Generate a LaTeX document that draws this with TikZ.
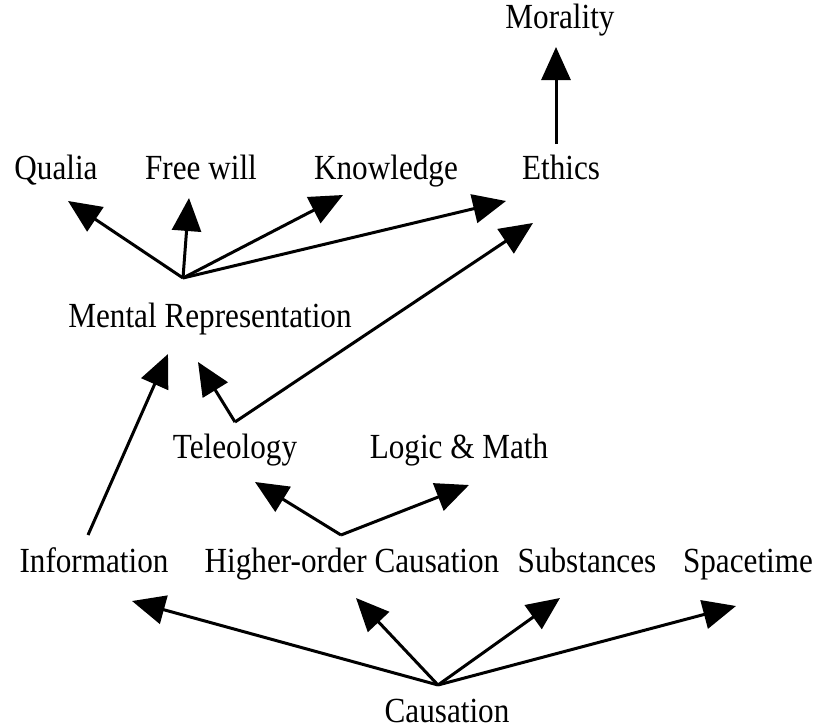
\documentclass[tikz,border=0pt]{standalone}
\usepackage{fontspec}
\setmainfont{Liberation Serif}
\usetikzlibrary{arrows.meta}
\newcommand{\tallbox}[1]{\scalebox{0.99}[1.12]{#1}}
\begin{document}
\begin{tikzpicture}[x=1pt,y=-1pt,
  lbl/.style={anchor=base,inner sep=0pt,font=\fontsize{31.5}{36}\selectfont},
  conn/.style={line width=3pt,-{Triangle[length=33pt,width=29pt]}}]
\useasboundingbox (0,0) rectangle (825,728);
% labels
\node[lbl] (mor) at (560,28) {\tallbox{Morality}};
\node[lbl] (qua) at (56,179) {\tallbox{Qualia}};
\node[lbl] (fw)  at (201,179) {\tallbox{Free will}};
\node[lbl] (kno) at (386,179) {\tallbox{Knowledge}};
\node[lbl] (eth) at (561,179) {\tallbox{Ethics}};
\node[lbl] (mr)  at (210,327) {\tallbox{Mental Representation}};
\node[lbl] (tel) at (235,458) {\tallbox{Teleology}};
\node[lbl] (lm)  at (459,458) {\tallbox{Logic \& Math}};
\node[lbl] (inf) at (94,572) {\tallbox{Information}};
\node[lbl] (hoc) at (352,572) {\tallbox{Higher-order Causation}};
\node[lbl] (sub) at (587,572) {\tallbox{Substances}};
\node[lbl] (spt) at (748,572) {\tallbox{Spacetime}};
\node[lbl] (cau) at (447,722) {\tallbox{Causation}};
% connector end points
\coordinate (ethOut) at (556,144);
\coordinate (morIn) at (556,47);
\coordinate (mrOut) at (183,278);
\coordinate (quaIn) at (68,201);
\coordinate (fwIn) at (189,198);
\coordinate (knoIn) at (343,195);
\coordinate (ethIn) at (506,201);
\coordinate (ethIn2) at (533,223);
\coordinate (telOut) at (235,422);
\coordinate (mrIn) at (198,362);
\coordinate (mrIn2) at (168,354);
\coordinate (infOut) at (88,535);
\coordinate (hocOut) at (341,535);
\coordinate (telIn) at (255,482);
\coordinate (lmIn) at (469,485);
\coordinate (cauOut) at (438,685);
\coordinate (infIn) at (132,601);
\coordinate (hocIn) at (356,598);
\coordinate (subIn) at (560,598);
\coordinate (sptIn) at (736,606);
% connectors
\draw[conn] (ethOut) -- (morIn);
\draw[conn] (mrOut) -- (quaIn);
\draw[conn] (mrOut) -- (fwIn);
\draw[conn] (mrOut) -- (knoIn);
\draw[conn] (mrOut) -- (ethIn);
\draw[conn] (telOut) -- (ethIn2);
\draw[conn] (telOut) -- (mrIn);
\draw[conn] (infOut) -- (mrIn2);
\draw[conn] (hocOut) -- (telIn);
\draw[conn] (hocOut) -- (lmIn);
\draw[conn] (cauOut) -- (infIn);
\draw[conn] (cauOut) -- (hocIn);
\draw[conn] (cauOut) -- (subIn);
\draw[conn] (cauOut) -- (sptIn);
\end{tikzpicture}
\end{document}
